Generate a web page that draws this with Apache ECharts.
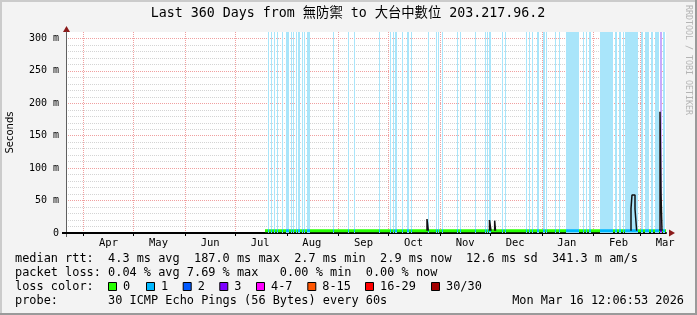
<!DOCTYPE html>
<html><head><meta charset="utf-8">
<script src="https://cdn.jsdelivr.net/npm/echarts@6/dist/echarts.min.js"></script>
<style>html,body{margin:0;padding:0;background:#f3f3f3}#c{width:697px;height:315px}</style>
</head><body><div id="c"></div>
<script>
// x values are days since the start of the 360-day window (Mar 21 2025 12:00 -> Mar 16 2026 12:00)
const monthNames = ['Jan','Feb','Mar','Apr','May','Jun','Jul','Aug','Sep','Oct','Nov','Dec'];
const yTickLabels = ['0','50 m','100 m','150 m','200 m','250 m','300 m'];

// loss spans: [startDay, endDay, lossLevel]
const lossSpans = [
 [121.2,121.8,1],[123.0,123.6,1],[124.8,125.4,1],[126.6,127.2,1],[129.6,130.2,1],
 [132.0,133.8,1],[135.0,135.6,1],[136.2,136.8,1],[138.0,138.6,1],[139.2,140.4,1],
 [141.6,142.2,1],[142.8,143.4,1],[144.6,146.4,1],[160.2,160.8,1],[169.2,169.8,1],
 [172.8,173.4,1],[187.8,188.4,1],[194.4,195.0,1],[196.2,196.8,1],[197.4,198.6,1],
 [201.6,202.2,1],[204.6,205.8,1],[207.0,207.6,1],[217.2,217.8,1],[222.0,222.6,1],
 [223.2,223.8,1],[225.6,226.2,1],[234.6,235.2,1],[236.4,237.0,1],[245.4,246.0,1],
 [251.4,252.0,1],[252.6,253.2,1],[253.8,255.0,1],[261.6,262.2,1],[263.4,264.0,1],
 [276.0,276.6,1],[277.8,278.4,1],[279.6,280.2,1],[282.6,283.8,1],[286.2,287.4,1],
 [288.0,288.6,1],[293.4,294.0,1],[295.8,296.4,1],[300.0,307.8,1],[310.2,310.8,1],
 [312.0,312.6,1],[313.8,315.0,1],[320.4,328.2,1],[329.4,330.6,1],[331.8,333.0,1],
 [334.2,334.8,1],[335.4,343.2,1],[345.0,346.2,1],[347.4,349.8,1],[351.0,352.2,1],
 [353.4,355.8,1],[356.4,357.6,3],[358.2,359.4,1]
];

// median rtt (ms), points [day, ms]
const medianPts = [[119.4,3.5],[360,3.5]];

// dark spikes [day, ms] (null separates groups)
const spikePts = [
 [216.6,3.5],[216.6,21.5],[217.4,21.5],[217.4,3.5], null,
 [254.1,3.5],[254.1,20],[255.0,20],[255.0,3.5], null,
 [257.2,3.5],[257.2,19],[257.7,19],[257.7,3.5], null,
 [339.0,3.5],[339.0,38],[339.6,38],[339.6,58.6],[341.4,58.6],[341.4,37],[342.4,37],[342.4,3.5], null,
 [356.4,3.5],[356.4,187],[357.0,187],[357.0,60],[357.6,60],[357.6,3.5]
];

const lossLegend = [
 ['0','#26ff00'],['1','#00b8ff'],['2','#0059ff'],['3','#7e00ff'],
 ['4-7','#ff00ff'],['8-15','#ff5500'],['16-29','#ff0000'],['30/30','#a10000']
];
const lossBg = {1:'#a9e5fa', 3:'#c9a9fb'};
const lossLine = {1:'#00b8ff', 3:'#7e00ff'};

// half-day category grid for month ticks / labels
const START_MS = Date.UTC(2025,2,21,12,0,0);
const HALF_DAY = 12*3600*1000;
const timeCats = [];
for (let k = 0; k <= 720; k++) timeCats.push(new Date(START_MS + k*HALF_DAY).toISOString().slice(0,13));
const isMonthStart = (i) => timeCats[i].slice(8,13) === '01T00';
const isMidMonth = (i) => timeCats[i].slice(8,13) === '16T00';

const MONO = "'DejaVu Sans Mono','Noto Sans CJK TC',monospace";
const PINK = '#f0a0a0', GRAY = '#d4d4d4';
const ySplitColors = [];
for (let i = 0; i <= 31; i++) ySplitColors.push(i % 5 === 0 ? PINK : GRAY);

const legendX = [108, 146, 182.7, 219.3, 256, 307.3, 365, 431];
const graphics = [
  {type:'rect', shape:{x:0,y:0,width:697,height:2}, style:{fill:'#cbcbcb'}, silent:true},
  {type:'rect', shape:{x:0,y:0,width:2,height:315}, style:{fill:'#cbcbcb'}, silent:true},
  {type:'rect', shape:{x:0,y:313,width:697,height:2}, style:{fill:'#9a9a9a'}, silent:true},
  {type:'rect', shape:{x:695,y:0,width:2,height:315}, style:{fill:'#9a9a9a'}, silent:true},
  {type:'text', x:348, y:14, style:{text:'Last 360 Days from 無防禦 to 大台中數位 203.217.96.2', font:"13.3px "+MONO, fill:'#000', align:'center', verticalAlign:'middle'}},
  {type:'text', x:688, y:5, rotation:-Math.PI/2, style:{text:'RRDTOOL / TOBI OETIKER', font:"8.3px "+MONO, fill:'#b4b4b4', align:'left', verticalAlign:'middle'}},
  {type:'line', shape:{x1:62,y1:233,x2:66,y2:233}, style:{stroke:'#000', lineWidth:2}},
  {type:'line', shape:{x1:66.5,y1:233,x2:66.5,y2:237}, style:{stroke:'#606060', lineWidth:1}},
  {type:'polygon', shape:{points:[[66.5,26],[63,32],[70,32]]}, style:{fill:'#8b1a1a'}},
  {type:'polygon', shape:{points:[[675,233],[669,229.5],[669,236.5]]}, style:{fill:'#8b1a1a'}},
  {type:'text', x:15, y:259, style:{text:'median rtt:  4.3 ms avg  187.0 ms max  2.7 ms min  2.9 ms now  12.6 ms sd  341.3 m am/s', font:"11.9px "+MONO, fill:'#000', verticalAlign:'middle'}},
  {type:'text', x:15, y:273, style:{text:'packet loss: 0.04 % avg 7.69 % max   0.00 % min  0.00 % now', font:"11.9px "+MONO, fill:'#000', verticalAlign:'middle'}},
  {type:'text', x:15, y:287, style:{text:'loss color:', font:"11.9px "+MONO, fill:'#000', verticalAlign:'middle'}},
  {type:'text', x:15, y:300.7, style:{text:'probe:       30 ICMP Echo Pings (56 Bytes) every 60s', font:"11.9px "+MONO, fill:'#000', verticalAlign:'middle'}},
  {type:'text', x:684, y:300.7, style:{text:'Mon Mar 16 12:06:53 2026', font:"11.9px "+MONO, fill:'#000', align:'right', verticalAlign:'middle'}}
];
lossLegend.forEach(([lab,col],i)=>{
  graphics.push({type:'rect', shape:{x:legendX[i]+0.5,y:282.5,width:8,height:8}, style:{fill:col, stroke:'#000', lineWidth:1}});
  graphics.push({type:'text', x:legendX[i]+15, y:287, style:{text:lab, font:"11.9px "+MONO, fill:'#000', verticalAlign:'middle'}});
});

const chart = echarts.init(document.getElementById('c'), null, {width:697, height:315});
chart.setOption({
  animation:false,
  backgroundColor:'#f3f3f3',
  grid:{left:66, right:31, top:32, bottom:82, show:true, backgroundColor:'#fff', borderWidth:0,
        containLabel:false, outerBoundsMode:'none'},
  xAxis:[
    {type:'value', min:0, max:360, show:false, splitLine:{show:false}},
    {type:'category', data:timeCats, boundaryGap:false, position:'bottom',
     axisLine:{show:true, onZero:false, lineStyle:{color:'#000', width:2}},
     axisTick:{show:true, interval:(i)=>isMonthStart(i), length:3, lineStyle:{color:'#000'}},
     axisLabel:{interval:(i)=>isMidMonth(i), formatter:(v)=>monthNames[parseInt(v.slice(5,7),10)-1],
       fontFamily:MONO, fontSize:10.5, color:'#000', margin:5, hideOverlap:false},
     splitLine:{show:true, interval:(i)=>isMonthStart(i), lineStyle:{color:PINK, width:1, type:[1,1]}}
    }
  ],
  yAxis:{
    type:'value', min:0, max:310, interval:10,
    name:'Seconds', nameLocation:'middle', nameRotate:90, nameGap:51,
    nameTextStyle:{fontFamily:"'DejaVu Sans',sans-serif", fontSize:10, color:'#000'},
    axisLine:{show:true, lineStyle:{color:'#606060', width:1}},
    axisTick:{show:false},
    axisLabel:{formatter:v=> (v%50===0 ? yTickLabels[v/50] : ''), fontFamily:MONO, fontSize:10, color:'#000', margin:7},
    splitLine:{show:true, showMaxLine:false, lineStyle:{color:ySplitColors, width:1, type:[1,1]}}
  },
  visualMap:{show:false, type:'piecewise', dimension:0, seriesIndex:1,
    pieces: lossSpans.map(([a,b,l])=>({gte:a, lte:b, color:lossLine[l]})),
    outOfRange:{color:'#26ff00'}},
  series:[
    {type:'line', name:'bg', xAxisIndex:0, data:[], silent:true,
     markArea:{silent:true, data: lossSpans.map(([a,b,l])=>[{xAxis:a, itemStyle:{color:lossBg[l]}},{xAxis:b}])}
    },
    {type:'line', name:'median', xAxisIndex:0, data:medianPts, showSymbol:false, lineStyle:{width:3}, z:3},
    {type:'line', name:'spikes', xAxisIndex:0, data:spikePts, showSymbol:false, connectNulls:false, lineStyle:{width:1.5, color:'#111'}, itemStyle:{color:'#111'}, z:4}
  ],
  graphic:graphics
});
</script></body></html>
